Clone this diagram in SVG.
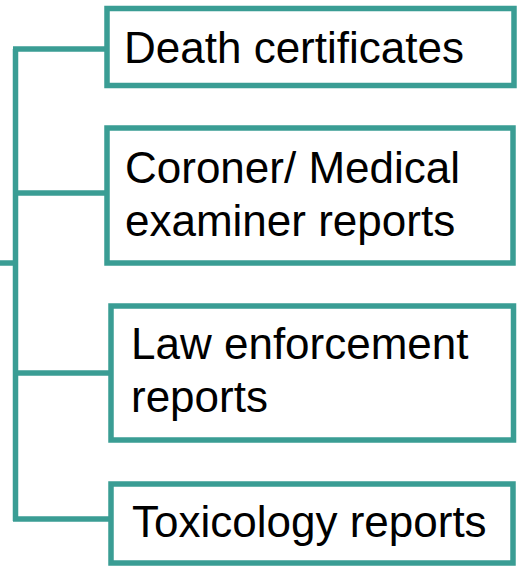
<svg xmlns="http://www.w3.org/2000/svg" width="519" height="571" viewBox="0 0 519 571">
<style>
.box{fill:#ffffff;stroke:#3a9d94;stroke-width:5.5}
.conn{fill:none;stroke:#3a9d94;stroke-width:5.5;stroke-linejoin:miter}
.lbl{font-family:"Liberation Sans",Arial,sans-serif;font-size:44px;fill:#000000}
</style>
<rect width="519" height="571" fill="#ffffff"/>
<g id="connectors">
<path class="conn" d="M15.5,49 V521"/>
<path class="conn" d="M13,49 H107"/>
<path class="conn" d="M15.5,193 H107"/>
<path class="conn" d="M15.5,373 H111"/>
<path class="conn" d="M13,519 H111"/>
<path class="conn" d="M0,263 H15.5"/>
</g>
<g id="node-death">
<rect class="box" x="107" y="8.5" width="407" height="77"/>
<text class="lbl" x="124" y="63">Death certificates</text>
</g>
<g id="node-coroner">
<rect class="box" x="107" y="128" width="406" height="135"/>
<text class="lbl" x="125" y="183">Coroner/ Medical</text>
<text class="lbl" x="125" y="236">examiner reports</text>
</g>
<g id="node-law">
<rect class="box" x="111" y="306" width="402.5" height="134"/>
<text class="lbl" x="131" y="359">Law enforcement</text>
<text class="lbl" x="131" y="412">reports</text>
</g>
<g id="node-tox">
<rect class="box" x="111" y="484" width="402" height="79"/>
<text class="lbl" x="132" y="537">Toxicology reports</text>
</g>
</svg>
